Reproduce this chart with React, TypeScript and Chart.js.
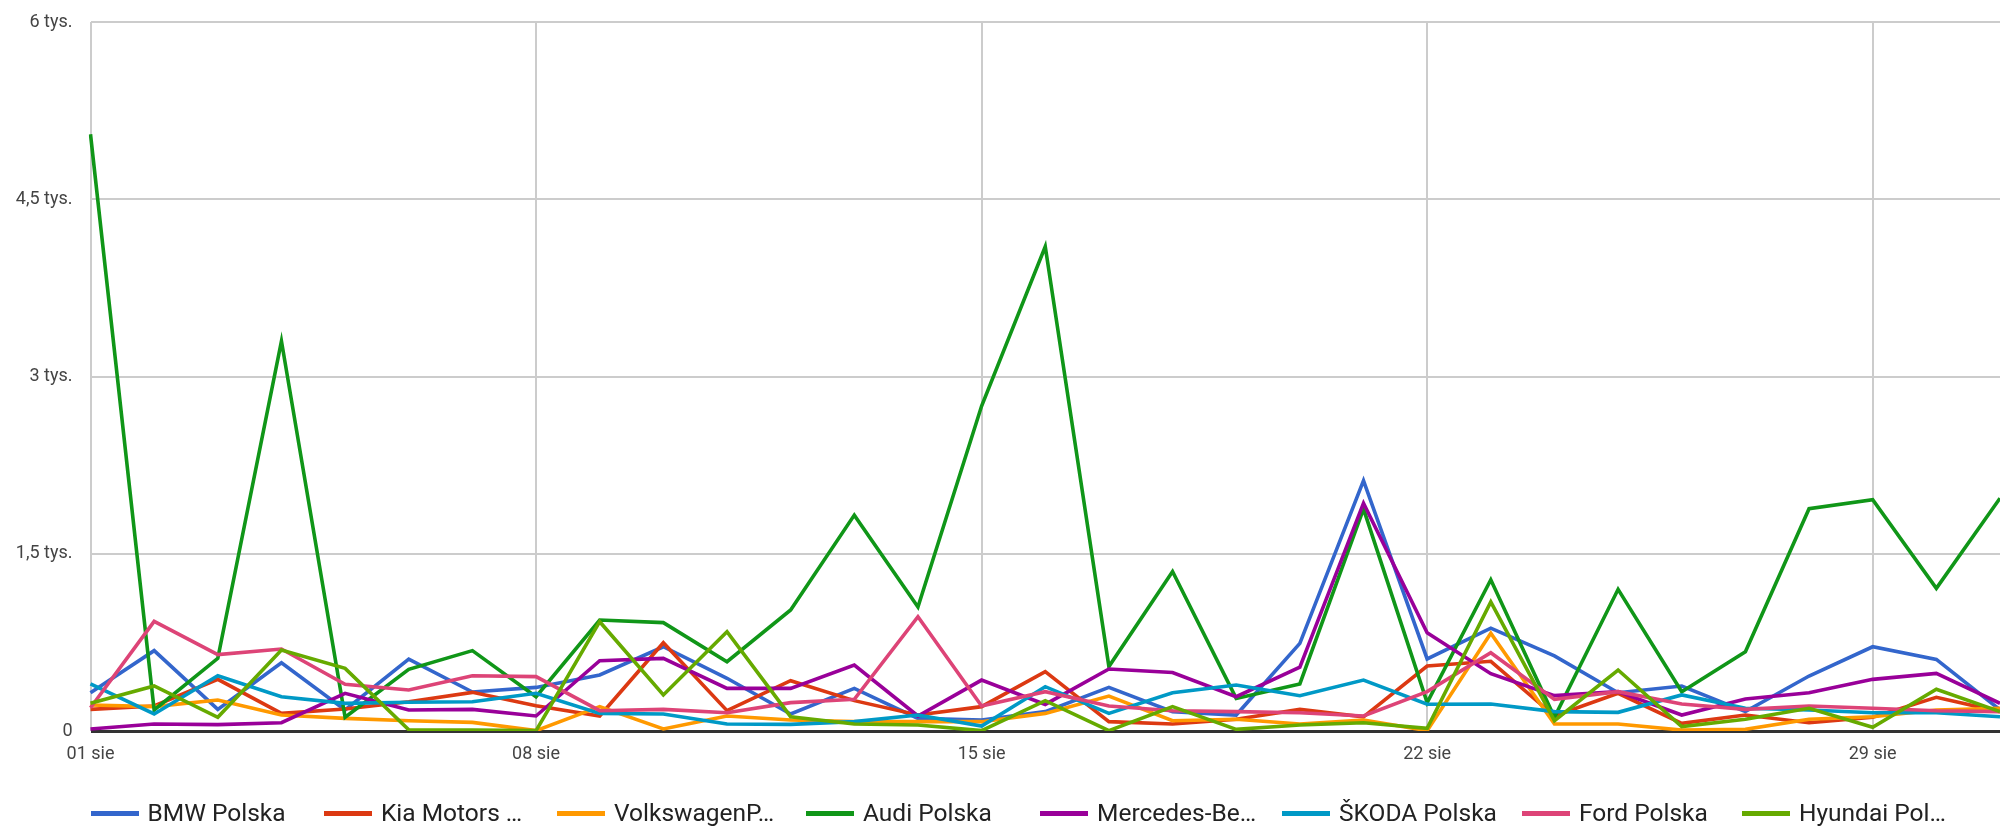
import React, { useEffect, useRef } from 'react';
import { Chart, registerables } from 'chart.js';

Chart.register(...registerables);

const DAYS = [
  '01 sie', '02 sie', '03 sie', '04 sie', '05 sie', '06 sie', '07 sie', '08 sie',
  '09 sie', '10 sie', '11 sie', '12 sie', '13 sie', '14 sie', '15 sie', '16 sie',
  '17 sie', '18 sie', '19 sie', '20 sie', '21 sie', '22 sie', '23 sie', '24 sie',
  '25 sie', '26 sie', '27 sie', '28 sie', '29 sie', '30 sie', '31 sie',
];

const Y_TICK_VALUES = [0, 1500, 3000, 4500, 6000];
const Y_TICK_LABELS = ['0', '1,5 tys.', '3 tys.', '4,5 tys.', '6 tys.'];

const BMW = [324, 680, 183, 578, 178, 609, 330, 369, 474, 713, 446, 144, 361, 107, 93, 164, 369, 164, 135, 742, 2119, 610, 870, 635, 324, 381, 164, 465, 713, 606, 180];
const KIA = [183, 212, 437, 149, 186, 248, 327, 214, 127, 747, 172, 426, 257, 135, 206, 502, 79, 59, 99, 183, 120, 550, 590, 127, 319, 65, 135, 70, 116, 285, 164];
const VW = [220, 206, 262, 135, 107, 87, 73, 3, 206, 17, 127, 93, 79, 79, 79, 149, 296, 87, 99, 59, 93, 3, 828, 59, 59, 8, 14, 99, 121, 178, 192];
const AUDI = [5050, 178, 615, 3300, 116, 522, 680, 290, 939, 917, 586, 1024, 1827, 1050, 2750, 4100, 545, 1350, 276, 398, 1880, 240, 1280, 116, 1199, 333, 671, 1881, 1957, 1207, 1970];
const MERCEDES = [17, 59, 54, 70, 319, 178, 183, 127, 595, 615, 361, 361, 558, 127, 431, 225, 525, 495, 290, 540, 1928, 831, 485, 299, 333, 135, 271, 324, 437, 488, 234];
const SKODA = [398, 144, 468, 290, 234, 243, 248, 319, 149, 144, 59, 56, 79, 135, 42, 375, 149, 324, 389, 299, 431, 226, 228, 164, 158, 305, 192, 178, 155, 155, 121];
const FORD = [197, 928, 646, 694, 395, 347, 468, 460, 172, 183, 155, 240, 268, 967, 212, 333, 212, 172, 164, 155, 127, 333, 662, 268, 333, 228, 183, 212, 192, 172, 164];
const HYUNDAI = [234, 381, 116, 685, 530, 10, 8, 3, 925, 305, 840, 121, 59, 51, 3, 257, 3, 206, 14, 51, 70, 23, 1092, 87, 516, 37, 99, 192, 31, 353, 164];

const SERIES_NAMES = ['BMW Polska', 'Kia Motors …', 'VolkswagenP…', 'Audi Polska', 'Mercedes-Be…', 'ŠKODA Polska', 'Ford Polska', 'Hyundai Pol…'];
const SERIES_VALUES = [BMW, KIA, VW, AUDI, MERCEDES, SKODA, FORD, HYUNDAI];
const SERIES_COLORS = ['#3366CC', '#DC3912', '#FF9900', '#109618', '#990099', '#0099C6', '#DD4477', '#66AA00'];

const LEGEND_SLOTS = [233.5, 233, 249, 234, 242, 240, 220, 250];

const FONT = 'Roboto, "Noto Sans", sans-serif';

export default function App() {
  const canvasRef = useRef<HTMLCanvasElement | null>(null);

  useEffect(() => {
    const canvas = canvasRef.current;
    if (!canvas) return;
    const n = SERIES_NAMES.length;
    const chart = new Chart(canvas, {
      type: 'line',
      data: {
        labels: DAYS,
        datasets: SERIES_NAMES.map((name, i) => ({
          label: name,
          data: SERIES_VALUES[i],
          borderColor: SERIES_COLORS[i],
          backgroundColor: SERIES_COLORS[i],
          borderWidth: 3.6,
          pointRadius: 0,
          pointHoverRadius: 0,
          tension: 0,
          fill: false,
          order: n - i,
        })),
      },
      options: {
        responsive: false,
        animation: false,
        devicePixelRatio: 1,
        layout: { padding: { top: 22, right: 0, left: 0, bottom: 0 } },
        plugins: {
          legend: { display: false },
          tooltip: { enabled: false },
        },
        scales: {
          x: {
            type: 'category',
            offset: false,
            border: { display: false },
            grid: {
              drawTicks: false,
              color: (ctx: any) => (ctx.index % 7 === 0 ? '#cccccc' : 'rgba(0,0,0,0)'),
              lineWidth: 2,
            },
            ticks: {
              autoSkip: false,
              maxRotation: 0,
              minRotation: 0,
              padding: 13,
              color: '#444444',
              font: { family: FONT, size: 18 },
              callback: (_v: any, i: number) => (i % 7 === 0 ? DAYS[i] : ''),
            },
            afterFit: (scale: any) => {
              scale.height = 96;
              scale.paddingRight = 0;
              scale.paddingLeft = 0;
            },
          },
          y: {
            min: 0,
            max: 6000,
            border: { display: false },
            grid: {
              drawTicks: false,
              color: (ctx: any) => (ctx.tick && ctx.tick.value === 0 ? '#333333' : '#cccccc'),
              lineWidth: (ctx: any) => (ctx.tick && ctx.tick.value === 0 ? 3 : 2),
            },
            afterBuildTicks: (scale: any) => {
              scale.ticks = Y_TICK_VALUES.map((v) => ({ value: v }));
            },
            ticks: {
              padding: 18,
              color: '#444444',
              font: { family: FONT, size: 18 },
              callback: (v: any) => {
                const idx = Y_TICK_VALUES.indexOf(Number(v));
                return idx >= 0 ? Y_TICK_LABELS[idx] : '';
              },
            },
            afterFit: (scale: any) => {
              scale.width = 90.5;
              scale.paddingTop = 0;
              scale.paddingBottom = 0;
            },
          },
        },
      },
    } as any);
    return () => chart.destroy();
  }, []);

  return (
    <div style={{ position: 'fixed', left: 0, top: 0, width: 2000, height: 827, background: '#fff', overflow: 'hidden' }}>
      <canvas ref={canvasRef} width={2000} height={827} style={{ position: 'absolute', left: 0, top: 0, width: 2000, height: 827 }} />
      <div style={{ position: 'absolute', left: 90.5, top: 797, height: 32, display: 'flex', alignItems: 'center' }}>
        {SERIES_NAMES.map((name, i) => (
          <div key={name} style={{ width: LEGEND_SLOTS[i], display: 'flex', alignItems: 'center', flex: 'none' }}>
            <div style={{ width: 48, height: 5, background: SERIES_COLORS[i], marginRight: 9, flex: 'none' }} />
            <span style={{ fontFamily: FONT, fontSize: 24.5, color: '#222222', whiteSpace: 'nowrap', lineHeight: '32px' }}>{name}</span>
          </div>
        ))}
      </div>
    </div>
  );
}
